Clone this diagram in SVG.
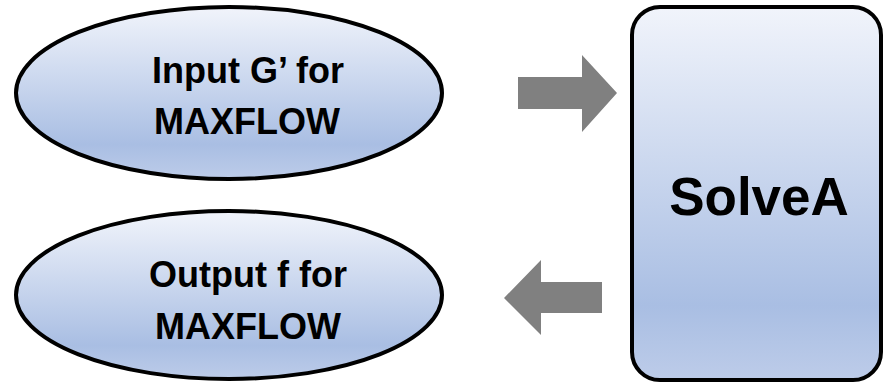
<svg xmlns="http://www.w3.org/2000/svg" width="884" height="385" viewBox="0 0 884 385">
<defs>
<linearGradient id="g" x1="0" y1="0" x2="0" y2="1">
<stop offset="0" stop-color="#f1f4fb"/>
<stop offset="0.8" stop-color="#a9bee3"/>
<stop offset="1" stop-color="#bdcce9"/>
</linearGradient>
<style>
.shape{fill:url(#g);stroke:#000;stroke-width:4}
.t{font-family:"Liberation Sans",Arial,sans-serif;font-weight:bold;fill:#000;text-anchor:middle}
.arrow{fill:#808080}
</style>
</defs>
<g id="input">
<ellipse class="shape" cx="229" cy="93" rx="213" ry="86"/>
<text class="t" x="248" y="83" font-size="36">Input G’ for</text>
<text class="t" x="247" y="134" font-size="36">MAXFLOW</text>
</g>
<g id="output">
<ellipse class="shape" cx="229" cy="295" rx="213" ry="84"/>
<text class="t" x="248" y="287" font-size="36">Output f for</text>
<text class="t" x="248" y="339" font-size="36">MAXFLOW</text>
</g>
<g id="solveA">
<rect class="shape" x="632" y="7" width="249" height="373" rx="28" ry="28"/>
<text class="t" x="759" y="215" font-size="53">SolveA</text>
</g>
<g id="connectors">
<polygon class="arrow" points="518,77 582,77 582,55 617,93 582,132 582,109 518,109"/>
<polygon class="arrow" points="602,282 541,282 541,260 504,298 541,335 541,313 602,313"/>
</g>
</svg>
